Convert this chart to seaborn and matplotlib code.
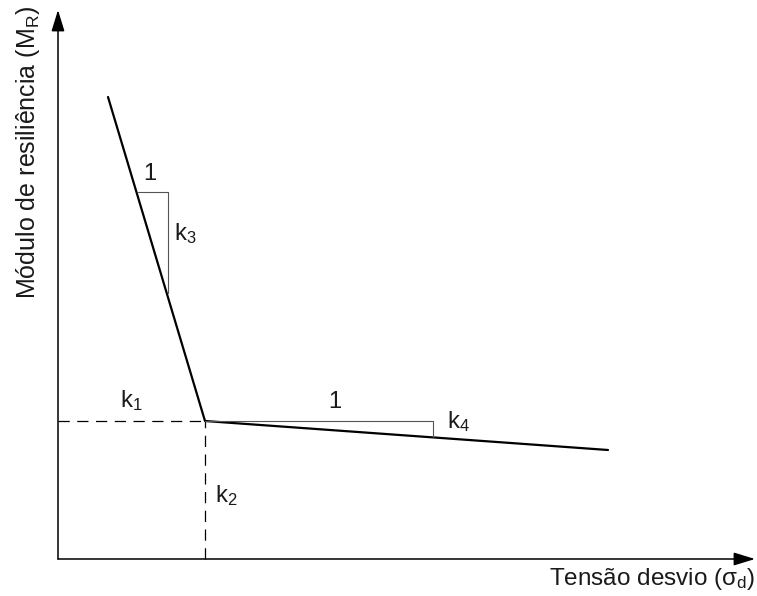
import matplotlib
matplotlib.use("Agg")
import matplotlib.pyplot as plt
import seaborn as sns
import pandas as pd

# bilinear model, values (arbitrary units, origin at axes corner)
tensao = [50, 147, 550]
modulo = [462, 138, 109]

# knee point (k1, k2)
knee_x = 147
knee_y = 138

# slope triangles
tri1_x = [80, 110, 110]
tri1_y = [367, 367, 266]
tri2_x = [147, 375, 375]
tri2_y = [138, 138, 122]

# axis extents
x_max = 697
y_max = 549

sns.set_theme(style="white")
plt.rcParams["font.family"] = ["Liberation Sans", "DejaVu Sans"]
plt.rcParams["mathtext.fontset"] = "custom"
plt.rcParams["mathtext.rm"] = "Liberation Sans"
plt.rcParams["mathtext.it"] = "Liberation Sans"

fig = plt.figure(figsize=(7.57, 5.96), dpi=100)
ax = fig.add_axes([0, 0, 1, 1])

df = pd.DataFrame({"tensao": tensao, "modulo": modulo})
sns.lineplot(data=df, x="tensao", y="modulo", sort=False, color="black",
             linewidth=1.6, ax=ax)

# dashed guides to the knee
ax.plot([0, knee_x], [knee_y, knee_y], color="black", lw=0.9, dashes=(9, 6))
ax.plot([knee_x, knee_x], [0, knee_y], color="black", lw=0.9, dashes=(9, 6))

# slope triangles
ax.plot(tri1_x, tri1_y, color="#555555", lw=0.8)
ax.plot(tri2_x, tri2_y, color="#555555", lw=0.8)

# axes with arrows
arrow = dict(arrowstyle="-|>,head_length=0.65,head_width=0.2", mutation_scale=20,
             color="black", lw=1.1, shrinkA=0, shrinkB=0)
ax.annotate("", xy=(0, y_max), xytext=(0, 0), arrowprops=arrow)
ax.annotate("", xy=(x_max, 0), xytext=(0, 0), arrowprops=arrow)

lab = dict(fontsize=17, color="#1a1a1a", ha="left", va="baseline")
ax.text(62, 152, r"k$_\mathrm{1}$", **lab)
ax.text(157, 57, r"k$_\mathrm{2}$", **lab)
ax.text(116, 319, r"k$_\mathrm{3}$", **lab)
ax.text(389, 131, r"k$_\mathrm{4}$", **lab)
ax.text(85, 379, "1", **lab)
ax.text(270, 151, "1", **lab)

ax.text(x_max, -26, r"Tensão desvio ($\mathrm{\sigma_d}$)", fontsize=17.5,
        color="#1a1a1a", ha="right", va="baseline")
ax.text(-30, 407, r"Módulo de resiliência ($\mathrm{M_R}$)", fontsize=18,
        color="#1a1a1a", ha="center", va="center", rotation=90)

ax.set_xlim(-58, 699)
ax.set_ylim(-37, 559)
ax.axis("off")

fig.savefig("out.png", dpi=100)
